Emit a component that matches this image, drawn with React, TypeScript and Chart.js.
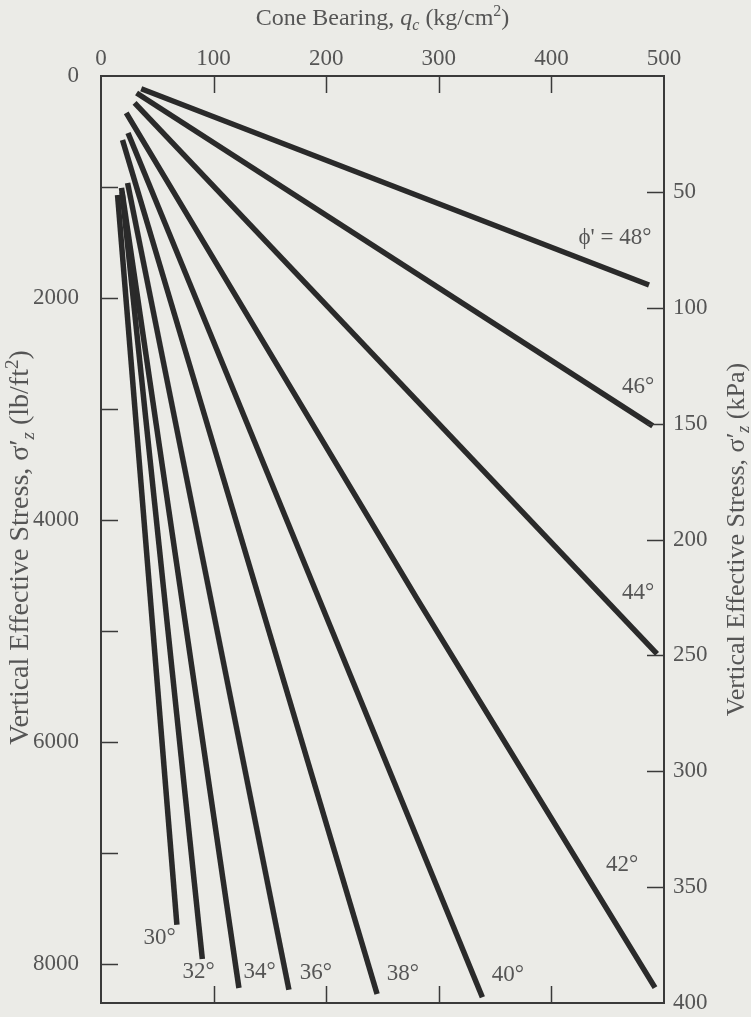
import React, { useEffect, useRef } from 'react';
import { Chart, registerables } from 'chart.js';

Chart.register(...registerables);

// ---------- data ----------
const PSF_PER_KPA = 20.885;
const X_TICKS = [0, 100, 200, 300, 400, 500];
const Y_TICKS_PSF = [0, 1000, 2000, 3000, 4000, 5000, 6000, 7000, 8000];
const Y_LABELLED_PSF = [0, 2000, 4000, 6000, 8000];
const Y2_TICKS_KPA = [50, 100, 150, 200, 250, 300, 350, 400];

const PHI_ANGLES = [30, 32, 34, 36, 38, 40, 42, 44, 46, 48];

// cone bearing qc (kg/cm2) along each line
const QC_30 = [14.7, 67.4];
const QC_32 = [18.7, 90.0];
const QC_34 = [18.2, 122.5];
const QC_36 = [23.6, 166.9];
const QC_38 = [19.1, 245.2];
const QC_40 = [24.0, 338.7];
const QC_42 = [22.4, 281.3, 492.0];
const QC_44 = [29.8, 493.8];
const QC_46 = [31.6, 490.0];
const QC_48 = [35.7, 486.7];

// vertical effective stress (lb/ft2) along each line
const SV_30 = [1072, 7649];
const SV_32 = [1045, 7958];
const SV_34 = [1009, 8219];
const SV_36 = [964, 8234];
const SV_38 = [577, 8273];
const SV_40 = [514, 8302];
const SV_42 = [333, 4721, 8216];
const SV_44 = [243, 5207];
const SV_46 = [153, 3153];
const SV_48 = [115, 1883];

const LINE_QC = [QC_30, QC_32, QC_34, QC_36, QC_38, QC_40, QC_42, QC_44, QC_46, QC_48];
const LINE_SV = [SV_30, SV_32, SV_34, SV_36, SV_38, SV_40, SV_42, SV_44, SV_46, SV_48];

// angle label anchors (data units)
const LABEL_TEXT = ['30°', '32°', '34°', '36°', '38°', '40°', '42°', '44°', '46°', "ϕ' = 48°"];
const LABEL_QC = [52, 86.7, 140.9, 190.7, 268, 361.3, 462.7, 476.9, 476.9, 456.4];
const LABEL_SV = [7766, 8072, 8072, 8081, 8090, 8099, 7108, 4658, 2802, 1459];

// ---------- styling ----------
const FONT = "'Liberation Serif', 'Times New Roman', serif";
const TEXT_COLOR = '#555555';
const LINE_COLOR = '#2a2a2a';
const BG = '#ebebe7';
const TICK_LEN = 17;

type Seg = { t: string; it?: boolean; sub?: boolean; sup?: boolean };

function drawRich(ctx: CanvasRenderingContext2D, segs: Seg[], cx: number, cy: number, size: number, rot: number) {
  ctx.save();
  ctx.translate(cx, cy);
  ctx.rotate(rot);
  ctx.fillStyle = TEXT_COLOR;
  ctx.textBaseline = 'middle';
  ctx.textAlign = 'left';
  const fontFor = (s: Seg) => {
    const sz = s.sub || s.sup ? Math.round(size * 0.68) : size;
    return `${s.it ? 'italic ' : ''}${sz}px ${FONT}`;
  };
  let total = 0;
  const widths = segs.map((s) => {
    ctx.font = fontFor(s);
    const w = ctx.measureText(s.t).width;
    total += w;
    return w;
  });
  let x = -total / 2;
  segs.forEach((s, i) => {
    ctx.font = fontFor(s);
    let dy = 0;
    if (s.sub) dy = size * 0.28;
    if (s.sup) dy = -size * 0.3;
    ctx.fillText(s.t, x, dy);
    x += widths[i];
  });
  ctx.restore();
}

const decorPlugin = {
  id: 'decor',
  beforeDraw(chart: any) {
    const ctx = chart.ctx as CanvasRenderingContext2D;
    ctx.save();
    ctx.fillStyle = BG;
    ctx.fillRect(0, 0, chart.width, chart.height);
    ctx.restore();
  },
  afterDraw(chart: any) {
    const ctx = chart.ctx as CanvasRenderingContext2D;
    const { left, right, top, bottom } = chart.chartArea;
    const sx = chart.scales.x;
    const sy = chart.scales.y;
    const sy2 = chart.scales.y2;
    ctx.save();
    ctx.strokeStyle = '#3a3a3a';
    ctx.lineWidth = 2;
    ctx.strokeRect(left, top, right - left, bottom - top);
    ctx.lineWidth = 1.5;
    ctx.beginPath();
    X_TICKS.filter((v) => v > 0 && v < 500).forEach((v) => {
      const px = Math.round(sx.getPixelForValue(v)) + 0.5;
      ctx.moveTo(px, top);
      ctx.lineTo(px, top + TICK_LEN);
      ctx.moveTo(px, bottom);
      ctx.lineTo(px, bottom - TICK_LEN);
    });
    Y_TICKS_PSF.filter((v) => v > 0).forEach((v) => {
      const py = Math.round(sy.getPixelForValue(v)) + 0.5;
      ctx.moveTo(left, py);
      ctx.lineTo(left + TICK_LEN, py);
    });
    Y2_TICKS_KPA.filter((v) => v < 400).forEach((v) => {
      const py = Math.round(sy2.getPixelForValue(v)) + 0.5;
      ctx.moveTo(right, py);
      ctx.lineTo(right - TICK_LEN, py);
    });
    ctx.stroke();

    // angle labels
    ctx.fillStyle = TEXT_COLOR;
    ctx.font = `23px ${FONT}`;
    ctx.textAlign = 'center';
    ctx.textBaseline = 'middle';
    LABEL_TEXT.forEach((t, i) => {
      ctx.fillText(t, sx.getPixelForValue(LABEL_QC[i]), sy.getPixelForValue(LABEL_SV[i]));
    });
    ctx.restore();

    const cx = (left + right) / 2;
    const cy = (top + bottom) / 2;
    drawRich(
      ctx,
      [
        { t: 'Cone Bearing, ' },
        { t: 'q', it: true },
        { t: 'c', it: true, sub: true },
        { t: ' (kg/cm' },
        { t: '2', sup: true },
        { t: ')' },
      ],
      cx,
      19,
      24,
      0
    );
    drawRich(
      ctx,
      [
        { t: 'Vertical Effective Stress, σ′' },
        { t: 'z', it: true, sub: true },
        { t: ' (lb/ft' },
        { t: '2', sup: true },
        { t: ')' },
      ],
      21,
      cy + 8,
      28,
      -Math.PI / 2
    );
    drawRich(
      ctx,
      [
        { t: 'Vertical Effective Stress, σ′' },
        { t: 'z', it: true, sub: true },
        { t: ' (kPa)' },
      ],
      737,
      cy,
      26,
      -Math.PI / 2
    );
  },
};

export default function App() {
  const ref = useRef<HTMLCanvasElement | null>(null);

  useEffect(() => {
    document.body.style.margin = '0';
    document.body.style.background = BG;
    const canvas = ref.current;
    if (!canvas) return;

    const datasets = PHI_ANGLES.map((phi, i) => ({
      label: `${phi}°`,
      data: LINE_QC[i].map((q, j) => ({ x: q, y: LINE_SV[i][j] })),
      showLine: true,
      borderColor: LINE_COLOR,
      backgroundColor: LINE_COLOR,
      borderWidth: 5.5,
      pointRadius: 0,
      tension: 0,
      fill: false,
    }));

    const tickFont = { family: FONT, size: 23 };
    const zeroPad = (s: any) => {
      s.paddingTop = 0;
      s.paddingBottom = 0;
      s.paddingLeft = 0;
      s.paddingRight = 0;
    };

    const chart = new Chart(canvas, {
      type: 'scatter',
      data: { datasets },
      plugins: [decorPlugin],
      options: {
        animation: false,
        responsive: false,
        devicePixelRatio: 1,
        layout: { padding: { left: 0, right: 0, top: 0, bottom: 14 } },
        plugins: { legend: { display: false }, tooltip: { enabled: false } },
        scales: {
          x: {
            type: 'linear',
            position: 'top',
            min: 0,
            max: 500,
            afterBuildTicks: (s: any) => {
              s.ticks = X_TICKS.map((v) => ({ value: v }));
            },
            afterFit: (s: any) => {
              s.height = 76;
              zeroPad(s);
            },
            grid: { display: false, drawTicks: false },
            border: { display: false },
            ticks: { font: tickFont, color: TEXT_COLOR, padding: 3, maxRotation: 0, autoSkip: false },
          },
          y: {
            type: 'linear',
            position: 'left',
            reverse: true,
            min: 0,
            max: 400 * PSF_PER_KPA,
            afterBuildTicks: (s: any) => {
              s.ticks = Y_TICKS_PSF.map((v) => ({ value: v }));
            },
            afterFit: (s: any) => {
              s.width = 101;
              zeroPad(s);
            },
            grid: { display: false, drawTicks: false },
            border: { display: false },
            ticks: {
              font: tickFont,
              color: TEXT_COLOR,
              padding: 22,
              autoSkip: false,
              callback: (v: any) => (Y_LABELLED_PSF.includes(Number(v)) ? String(v) : ''),
            },
          },
          y2: {
            type: 'linear',
            position: 'right',
            reverse: true,
            min: 0,
            max: 400,
            afterBuildTicks: (s: any) => {
              s.ticks = Y2_TICKS_KPA.map((v) => ({ value: v }));
            },
            afterFit: (s: any) => {
              s.width = 87;
              zeroPad(s);
            },
            grid: { display: false, drawTicks: false },
            border: { display: false },
            ticks: { font: tickFont, color: TEXT_COLOR, padding: 9, autoSkip: false },
          },
        },
      } as any,
    });

    return () => chart.destroy();
  }, []);

  return (
    <div style={{ width: 751, height: 1017, background: BG }}>
      <canvas ref={ref} width={751} height={1017} style={{ display: 'block' }} />
    </div>
  );
}
